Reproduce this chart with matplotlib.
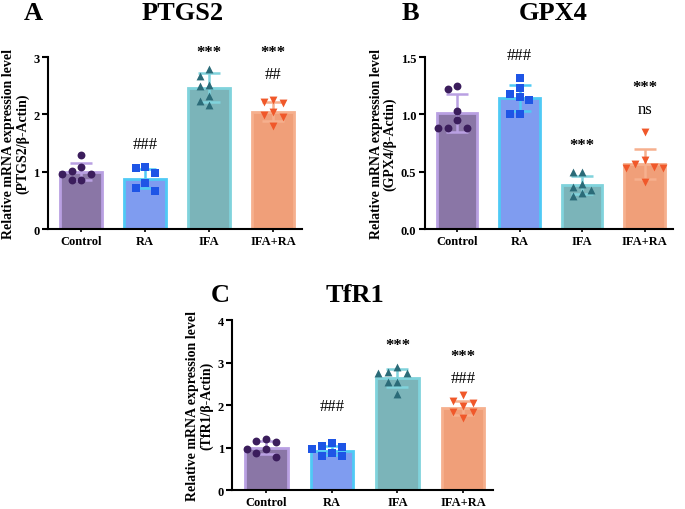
import numpy as np
import matplotlib.pyplot as plt

plt.rcParams['font.family'] = ['Liberation Serif', 'DejaVu Serif']
plt.rcParams['font.weight'] = 'bold'

groups = ["Control", "RA", "IFA", "IFA+RA"]

# PTGS2 (panel A)
ptgs2_mean = [1.00, 0.88, 2.47, 2.05]
ptgs2_sd = [0.15, 0.17, 0.25, 0.16]
ptgs2_pts = [
    [1.29, 1.02, 0.96, 1.09, 0.96, 0.85, 0.85],
    [1.06, 1.08, 0.66, 0.72, 0.98, 0.80],
    [2.80, 2.67, 2.49, 2.51, 2.33, 2.16, 2.24],
    [2.20, 2.26, 2.21, 2.04, 1.99, 1.79, 1.95],
]
ptgs2_marks = [("", None), ("###", 1.48), ("***", 3.09), ("***", 3.09)]
ptgs2_marks2 = [("", None), ("", None), ("", None), ("##", 2.70)]

# GPX4 (panel B)
gpx4_mean = [1.01, 1.145, 0.385, 0.57]
gpx4_sd = [0.165, 0.115, 0.08, 0.13]
gpx4_pts = [
    [1.22, 1.25, 1.03, 0.885, 0.885, 0.885, 0.95],
    [1.32, 1.23, 1.15, 1.13, 1.00, 1.00, 1.18],
    [0.50, 0.50, 0.39, 0.29, 0.37, 0.31, 0.34],
    [0.85, 0.57, 0.53, 0.54, 0.60, 0.53, 0.41],
]
gpx4_marks = [("", None), ("###", 1.52), ("***", 0.73), ("***", 1.24)]
gpx4_marks2 = [("", None), ("", None), ("", None), ("ns", 1.05)]

# TfR1 (panel C)
tfr1_mean = [1.00, 0.93, 2.64, 1.93]
tfr1_sd = [0.15, 0.11, 0.22, 0.17]
tfr1_pts = [
    [1.15, 1.21, 1.13, 0.98, 0.98, 0.78, 0.88],
    [1.02, 0.98, 1.05, 1.11, 0.81, 0.81, 0.88],
    [2.89, 2.77, 2.77, 2.79, 2.55, 2.55, 2.26],
    [2.23, 1.99, 2.09, 2.05, 1.70, 1.85, 1.84],
]
tfr1_marks = [("", None), ("###", 1.99), ("***", 3.42), ("***", 3.15)]
tfr1_marks2 = [("", None), ("", None), ("", None), ("###", 2.63)]

face_cols = ["#8a76a6", "#7f9cf0", "#7bb4b9", "#f09f79"]
edge_cols = ["#b9a0e2", "#4fcaf5", "#80d3dc", "#f6b08e"]
pt_cols = ["#3b1d5c", "#1e55e6", "#2b6b78", "#f0582a"]
pt_marks = ["o", "s", "^", "v"]


def swarm(vals, yspan, step=0.15, min_dist=0.05):
    # simple beeswarm: spread points that sit at similar heights
    placed = []
    offs = np.zeros(len(vals))
    order = np.argsort(vals)[::-1]
    for i in order:
        y = vals[i] / yspan
        for k in [0, -1, 1, -2, 2, -3, 3]:
            x = k * step
            ok = True
            for (px, py) in placed:
                if abs(px - x) < step * 0.9 and abs(py - y) < min_dist:
                    ok = False
                    break
            if ok:
                offs[i] = x
                placed.append((x, y))
                break
    return offs


def panel(ax, means, sds, pts, marks, marks2, ymax, yticks, ylabel):
    x = np.arange(len(groups))
    ax.bar(x, means, width=0.65, color=face_cols, edgecolor=edge_cols,
           linewidth=2, zorder=1)
    for i in range(len(groups)):
        ax.errorbar(x[i], means[i], yerr=sds[i], fmt="none",
                    ecolor=edge_cols[i], elinewidth=1.8, capsize=8,
                    capthick=1.8, zorder=2)
        vals = np.array(pts[i])
        offs = swarm(vals, ymax)
        ax.scatter(x[i] + offs, vals, marker=pt_marks[i], s=32,
                   color=pt_cols[i], zorder=3, linewidths=0)
        for txt, yy in (marks[i], marks2[i]):
            if txt:
                star = txt[0] == "*"
                ax.text(x[i], yy, txt, ha="center", va="center",
                        fontsize=12 if star else 12,
                        fontweight="bold" if star else "normal",
                        clip_on=False)
    ax.set_xlim(-0.52, 3.45)
    ax.set_ylim(0, ymax)
    ax.set_yticks(yticks)
    ax.set_xticks(x)
    ax.set_xticklabels(groups, fontsize=9, fontweight="bold")
    for lab in ax.get_yticklabels():
        lab.set_fontsize(9)
        lab.set_fontweight("bold")
    ax.set_ylabel(ylabel, fontsize=10, fontweight="bold", linespacing=1.05,
                  labelpad=3)
    ax.spines["top"].set_visible(False)
    ax.spines["right"].set_visible(False)
    ax.spines["left"].set_linewidth(1.5)
    ax.spines["bottom"].set_linewidth(1.5)
    ax.tick_params(axis="y", width=1.5, length=4, pad=2)
    ax.tick_params(axis="x", width=1.2, length=2.5, pad=1.5)


fig = plt.figure(figsize=(6.85, 5.10), dpi=100)

axA = fig.add_axes([0.070, 0.549, 0.371, 0.337])
panel(axA, ptgs2_mean, ptgs2_sd, ptgs2_pts, ptgs2_marks, ptgs2_marks2,
      3, [0, 1, 2, 3],
      "Relative mRNA expression level\n(PTGS2/\u03b2-Actin)")

axB = fig.add_axes([0.620, 0.549, 0.362, 0.337])
panel(axB, gpx4_mean, gpx4_sd, gpx4_pts, gpx4_marks, gpx4_marks2,
      1.5, [0.0, 0.5, 1.0, 1.5],
      "Relative mRNA expression level\n(GPX4/\u03b2-Actin)")
axB.set_yticklabels(["0.0", "0.5", "1.0", "1.5"], fontsize=9, fontweight="bold")

axC = fig.add_axes([0.339, 0.037, 0.380, 0.333])
panel(axC, tfr1_mean, tfr1_sd, tfr1_pts, tfr1_marks, tfr1_marks2,
      4, [0, 1, 2, 3, 4],
      "Relative mRNA expression level\n(TfR1/\u03b2-Actin)")

title_kw = dict(fontsize=19, fontweight="bold", ha="center", va="center")
fig.text(33 / 685, 1 - 14 / 510, "A", **title_kw)
fig.text(183 / 685, 1 - 14 / 510, "PTGS2", **title_kw)
fig.text(410 / 685, 1 - 14 / 510, "B", **title_kw)
fig.text(553 / 685, 1 - 14 / 510, "GPX4", **title_kw)
fig.text(220 / 685, 1 - 295 / 510, "C", **title_kw)
fig.text(355 / 685, 1 - 295 / 510, "TfR1", **title_kw)

fig.savefig("out.png", dpi=100)
